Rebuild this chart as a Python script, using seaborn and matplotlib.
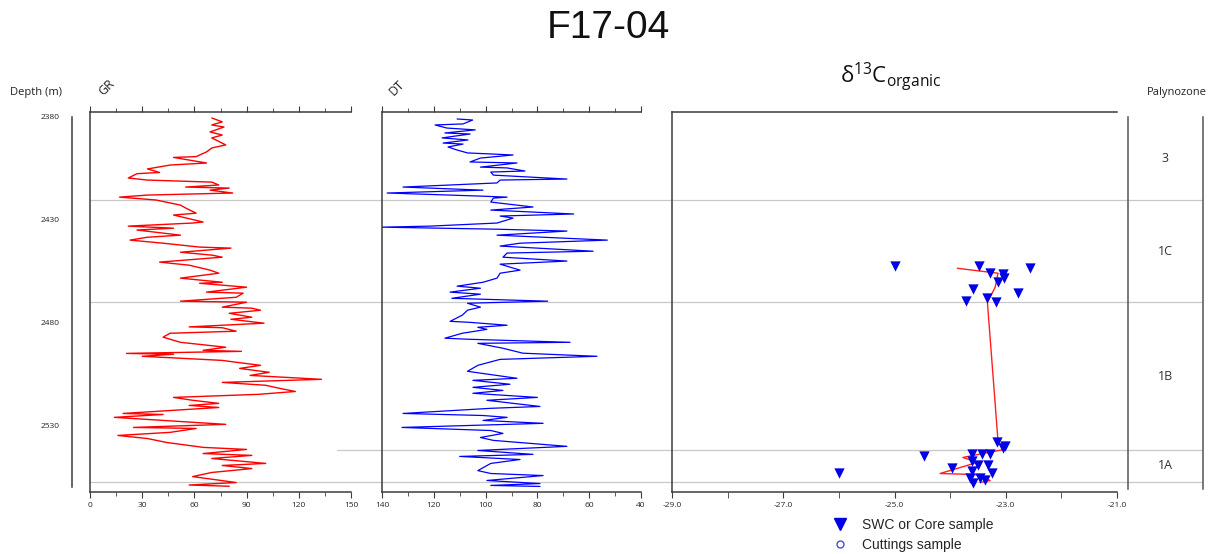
import matplotlib
matplotlib.use('Agg')
import matplotlib.pyplot as plt
import seaborn as sns
from matplotlib.lines import Line2D
from matplotlib.ticker import MultipleLocator, FixedLocator, NullLocator

W, H = 1229, 554

# ---------------- data ----------------
gr_depth = [2380.5, 2382.4, 2383.9, 2384.9, 2387.3, 2388.8, 2390.2, 2393.6, 2395.1, 2397.0,
            2399.3, 2399.7, 2402.4, 2403.4, 2405.3, 2407.0, 2407.6, 2409.7, 2410.7, 2411.7,
            2413.1, 2414.1, 2414.6, 2415.6, 2417.0, 2418.0, 2419.0, 2420.4, 2422.9, 2424.3,
            2426.8, 2427.7, 2431.1, 2431.6, 2433.1, 2434.1, 2435.0, 2437.5, 2438.5, 2439.9,
            2441.4, 2443.3, 2443.8, 2445.8, 2447.2, 2448.2, 2450.6, 2452.1, 2454.5, 2456.0,
            2458.4, 2460.4, 2460.9, 2462.8, 2465.2, 2465.7, 2467.7, 2469.6, 2470.1, 2472.5,
            2473.0,
            2474.0, 2475.5, 2477.4, 2478.4, 2480.3, 2482.1, 2482.5, 2484.2, 2485.2, 2487.1,
            2489.6, 2492.0, 2493.5, 2494.0, 2495.0, 2495.4, 2496.4, 2498.4, 2499.3, 2500.8,
            2502.3, 2504.2, 2505.7, 2507.6, 2509.1, 2510.5, 2512.0, 2513.5, 2514.9, 2516.4,
            2517.8, 2519.3, 2520.3, 2521.3, 2524.2, 2524.7, 2526.1, 2529.5, 2531.0, 2531.5,
            2533.4, 2534.9, 2536.4, 2538.3, 2540.7, 2541.7, 2543.7, 2544.6, 2546.1, 2548.5,
            2549.5, 2551.0, 2552.9, 2554.9, 2557.8, 2559.0, 2559.6]
gr_value = [70, 76, 70, 77, 69, 76, 70, 78, 70, 67,
            61, 48, 67, 46, 33, 40, 27, 22, 33, 70,
            74, 55, 80, 69, 82, 33, 17, 38, 52, 55,
            61, 48, 65, 59, 22, 48, 27, 52, 33, 23,
            42, 63, 81, 52, 70, 76, 40, 57, 69, 74,
            52, 76, 63, 90, 67, 88, 84, 52, 90, 76,
            93,
            98, 80, 93, 81, 100, 57, 76, 84, 46, 42,
            52, 78, 65, 87, 21, 48, 30, 76, 84, 98,
            86, 103, 92, 133, 76, 101, 109, 118, 97, 48,
            59, 74, 57, 74, 19, 42, 14, 78, 25, 61,
            46, 16, 33, 44, 65, 90, 65, 93, 70, 101,
            76, 93, 70, 59, 84, 57, 80]

dt_depth = [2381.0, 2381.5, 2383.4, 2383.9, 2385.4, 2386.3, 2387.8, 2388.3, 2390.2, 2391.2,
            2392.7, 2393.2, 2394.6, 2396.1, 2397.5, 2398.5, 2400.0, 2401.9, 2402.4, 2404.4,
            2404.8, 2406.3, 2406.8, 2408.3, 2410.2, 2410.7, 2412.1, 2414.1, 2415.6, 2417.0,
            2418.5, 2419.0, 2419.5, 2421.4, 2423.8, 2425.3, 2427.2, 2428.2, 2429.2, 2431.6,
            2433.1, 2433.6, 2434.6, 2435.5, 2437.5, 2439.9, 2441.4, 2442.8, 2445.3, 2446.2,
            2448.2, 2450.1, 2451.6, 2454.5, 2456.0, 2458.4, 2460.4, 2462.3, 2463.3, 2465.2,
            2466.2, 2468.2, 2469.6, 2470.6, 2472.5,
            2474.0, 2476.4, 2479.4, 2479.9, 2481.3, 2482.3, 2483.3, 2485.2, 2487.6, 2488.1,
            2489.6, 2490.1, 2492.5, 2494.9, 2496.4, 2497.9, 2500.8, 2503.7, 2507.1, 2508.1,
            2510.0, 2511.5, 2513.0, 2514.4, 2516.4, 2517.8, 2520.8, 2521.7, 2524.2, 2525.2,
            2526.1, 2527.6, 2529.0, 2531.0, 2532.5, 2533.9, 2535.9, 2537.3, 2540.2, 2542.2,
            2544.1, 2545.1, 2546.6, 2548.5, 2552.0, 2553.4, 2554.4, 2556.8, 2558.3, 2559.2,
            2559.7]
dt_value = [111, 105, 108.7, 119.5, 115, 104, 115.7, 106, 116.8, 106.8,
            116.4, 108.7, 114.5, 111, 107, 89.4, 102, 106, 87.9, 102,
            91.7, 84.8, 98, 97, 68.6, 94.4, 95.6, 131.9, 101, 138,
            102, 91.7, 97, 98, 81.7, 98, 66, 94.4, 89.4, 95.6,
            121.5, 140, 95.6, 68.6, 95.6, 53, 86.7, 94.4, 58.5, 91.7,
            93.3, 68.6, 94.4, 86.7, 94.4, 95.6, 101, 111, 102, 113.7,
            102, 113, 76, 107, 102,
            107, 109, 113.7, 106, 91.7, 103, 99.5, 109, 115.7, 107,
            67.4, 103, 93.3, 85.6, 57, 94.4, 103, 107, 87.9, 104.9,
            90.6, 104.9, 93.3, 104.9, 80, 99.5, 79, 98, 131.9, 101,
            91.7, 101, 77.8, 132.3, 98, 93.3, 102, 97, 68.6, 103,
            81.7, 110, 86.7, 98, 103, 98, 77.8, 99.5, 79, 98,
            79]

swc_depth = [2452.6, 2452.6, 2456.0, 2456.5, 2458.4, 2460.4, 2453.5, 2463.8, 2465.7, 2469.6,
             2468.2, 2470.1,
             2553.4, 2545.1, 2550.5, 2538.3, 2539.8, 2541.2, 2543.7, 2543.7, 2543.7, 2547.1,
             2549.5, 2549.5, 2552.0, 2553.4, 2555.4, 2555.4, 2556.8, 2557.8]
swc_d13c = [-25.0, -23.48, -23.28, -23.05, -23.03, -23.14, -22.56, -23.59, -22.78, -23.71,
            -23.33, -23.17,
            -26.0, -24.47, -23.96, -23.15, -23.01, -23.05, -23.60, -23.42, -23.28, -23.60,
            -23.50, -23.32, -23.60, -23.24, -23.64, -23.46, -23.37, -23.59]

trend_depth = [2453.6, 2456.0, 2462.8, 2470.1, 2537.3, 2540.7, 2541.7, 2545.6, 2548.0,
               2553.4, 2553.9, 2556.8, 2557.8]
trend_d13c = [-23.87, -23.14, -23.19, -23.33, -23.14, -23.06, -23.03, -23.77, -23.51,
              -24.18, -23.55, -23.28, -23.46]

zone_bounds = [2380, 2420.5, 2470, 2542, 2557.5]
zone_labels = ['3', '1C', '1B', '1A']
depth_ticks = [2380, 2430, 2480, 2530]
gr_ticks = [0, 30, 60, 90, 120, 150]
dt_ticks = [140, 120, 100, 80, 60, 40]
d13c_ticks = [-29.0, -27.0, -25.0, -23.0, -21.0]

# ---------------- style ----------------
sns.set_style('white')
plt.rcParams['font.family'] = ['Open Sans', 'DejaVu Sans']
plt.rcParams['axes.unicode_minus'] = False
plt.rcParams['mathtext.fontset'] = 'custom'
plt.rcParams['mathtext.rm'] = 'Liberation Sans'

SPINE = '#3c3c3c'
BLUE = '#0000E6'

fig = plt.figure(figsize=(W / 100, H / 100), dpi=100)
TOP, BOT = 112, 492
YLIM = (2562.4, 2377.6)


def box(x0, x1):
    return [x0 / W, 1 - BOT / H, (x1 - x0) / W, (BOT - TOP) / H]


# background axes for zone boundaries
bg = fig.add_axes(box(90, 1203), zorder=0)
bg.set_ylim(*YLIM)
bg.set_xlim(0, 1)
bg.axis('off')
for zb in zone_bounds[1:]:
    x0 = 0.222 if zb == 2542 else 0.0
    bg.axhline(zb, xmin=x0, xmax=1, color='#c8c8c8', lw=0.9)


def style_track(ax):
    ax.set_facecolor('none')
    ax.set_ylim(*YLIM)
    ax.spines['right'].set_visible(False)
    for s in ['left', 'top', 'bottom']:
        ax.spines[s].set_color(SPINE)
        ax.spines[s].set_linewidth(1.1)
    ax.yaxis.set_major_locator(NullLocator())
    ax.set_xlabel('')
    ax.set_ylabel('')
    ax.tick_params(axis='x', which='both', bottom=True, top=True, labeltop=False,
                   direction='out', color=SPINE, labelsize=6, pad=3)
    ax.tick_params(axis='x', which='major', length=4)
    ax.tick_params(axis='x', which='minor', length=3)


# depth axis
axd = fig.add_axes(box(72, 73), zorder=2)
axd.set_facecolor('none')
axd.set_ylim(*YLIM)
for s in ['right', 'top', 'bottom']:
    axd.spines[s].set_visible(False)
axd.spines['left'].set_color(SPINE)
axd.spines['left'].set_linewidth(1.1)
axd.spines['left'].set_bounds(2380, 2560)
axd.set_xticks([])
axd.yaxis.set_major_locator(FixedLocator(depth_ticks))
axd.set_yticklabels([str(t) for t in depth_ticks])
axd.tick_params(axis='y', length=4, color=SPINE, labelsize=6, pad=5)

# GR track
ax_gr = fig.add_axes(box(90, 351), zorder=2)
sns.lineplot(x=gr_value, y=gr_depth, sort=False, estimator=None, color='#FF0000',
             lw=1.0, ax=ax_gr)
ax_gr.set_xlim(0, 150)
style_track(ax_gr)
ax_gr.xaxis.set_major_locator(FixedLocator(gr_ticks))
ax_gr.xaxis.set_minor_locator(MultipleLocator(15))

# DT track
ax_dt = fig.add_axes(box(382, 641), zorder=2)
sns.lineplot(x=dt_value, y=dt_depth, sort=False, estimator=None, color='#0000FF',
             lw=0.9, ax=ax_dt)
ax_dt.set_xlim(140, 40)
style_track(ax_dt)
ax_dt.xaxis.set_major_locator(FixedLocator(dt_ticks))
ax_dt.xaxis.set_minor_locator(MultipleLocator(10))

# delta 13C track
ax_c = fig.add_axes(box(672, 1117), zorder=2)
sns.lineplot(x=trend_d13c, y=trend_depth, sort=False, estimator=None, color='#FF2020',
             lw=1.0, ax=ax_c, zorder=2)
sns.scatterplot(x=swc_d13c, y=swc_depth, marker='v', s=55, color=BLUE, linewidth=0,
                ax=ax_c, zorder=3)
ax_c.set_xlim(-29, -21)
style_track(ax_c)
ax_c.xaxis.set_major_locator(FixedLocator(d13c_ticks))
ax_c.xaxis.set_minor_locator(MultipleLocator(1))
ax_c.set_xticklabels([f'{t:.1f}' for t in d13c_ticks])
ax_c.tick_params(axis='x', which='both', top=False, length=4)

handles = [Line2D([], [], marker='v', ls='none', color=BLUE, markersize=8),
           Line2D([], [], marker='o', ls='none', markerfacecolor='none',
                  markeredgecolor='#4a4ae0', markersize=5, markeredgewidth=1)]
ax_c.legend(handles, ['SWC or Core sample', 'Cuttings sample'], loc='upper left',
            bbox_to_anchor=(830 / W, 1 - 518 / H), bbox_transform=fig.transFigure,
            frameon=False, borderaxespad=0, borderpad=0, handlelength=1.4,
            handletextpad=0.9, labelspacing=0.45,
            prop={'family': 'Liberation Sans', 'size': 10})

# palynozone column
ax_p = fig.add_axes(box(1128, 1203), zorder=2)
ax_p.set_facecolor('none')
ax_p.set_ylim(*YLIM)
ax_p.set_xlim(0, 1)
for s in ['top', 'bottom']:
    ax_p.spines[s].set_visible(False)
for s in ['left', 'right']:
    ax_p.spines[s].set_color('#555555')
    ax_p.spines[s].set_linewidth(1.1)
    ax_p.spines[s].set_bounds(2380, 2561)
ax_p.set_xticks([])
ax_p.set_yticks([])
for lab, a, b in zip(zone_labels, zone_bounds[:-1], zone_bounds[1:]):
    ax_p.text(0.5, (a + b) / 2, lab, ha='center', va='center', fontsize=9, color='#333333')

# texts
fig.text(608 / W, 1 - 28 / H, 'F17-04', ha='center', va='center', fontsize=28,
         family='Liberation Sans', color='#111111')
fig.text(10 / W, 1 - 92 / H, 'Depth (m)', ha='left', va='center', fontsize=8,
         color='#222222')
fig.text(107 / W, 1 - 88 / H, 'GR', ha='center', va='center', fontsize=9, rotation=45,
         color='#222222')
fig.text(397 / W, 1 - 88 / H, 'DT', ha='center', va='center', fontsize=9, rotation=45,
         color='#222222')
fig.text(891 / W, 1 - 77 / H, r'$\mathregular{\delta^{13}C_{organic}}$', ha='center',
         va='center', fontsize=16, color='#111111')
fig.text(1147 / W, 1 - 92 / H, 'Palynozone', ha='left', va='center', fontsize=8,
         color='#222222')

fig.savefig('out.png', dpi=100, facecolor='white')
